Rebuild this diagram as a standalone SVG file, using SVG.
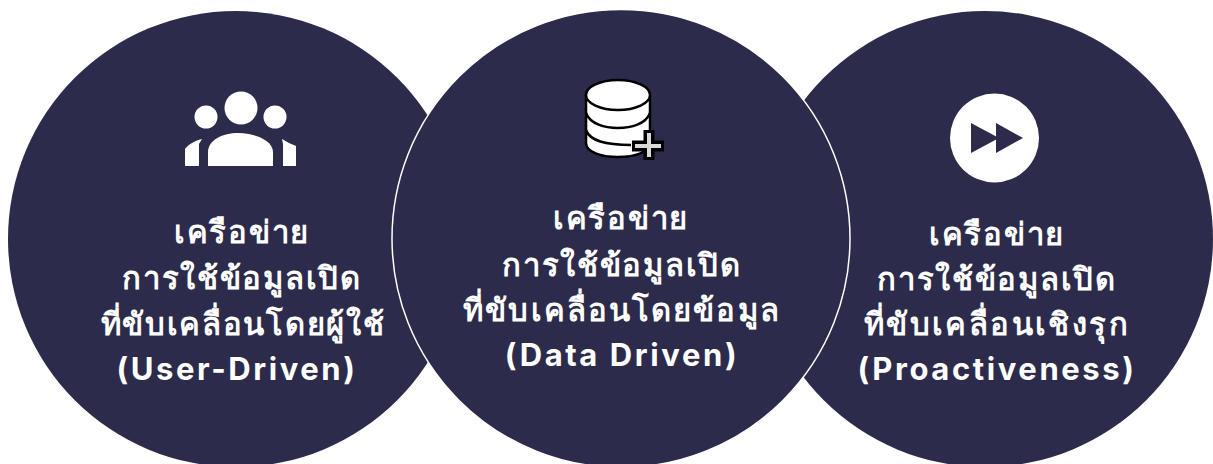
<svg xmlns="http://www.w3.org/2000/svg" width="1213" height="464" viewBox="0 0 1213 464">
<defs><filter id="soft" x="-10%" y="-10%" width="120%" height="120%"><feGaussianBlur stdDeviation="0.7"/></filter></defs>
<style>
.c{fill:#2d2b4b}
.t{font-family:"Noto Sans","DejaVu Sans",sans-serif;font-weight:700;font-size:31px;fill:#fff;text-anchor:middle;letter-spacing:1.7px}
.l{font-family:"Inter","Noto Sans",sans-serif;font-weight:700;font-size:31px;letter-spacing:2.6px}
.w{fill:#fff}
.d{fill:#2d2b4b}
</style>
<rect width="1213" height="464" fill="#fff"/>
<g id="node-left">
<circle class="c" cx="236" cy="239" r="228"/>
<g class="w" filter="url(#soft)">
<circle cx="241" cy="108" r="16.500"/>
<circle cx="206" cy="117" r="11.500"/>
<circle cx="275" cy="117" r="11.500"/>
<path d="M208 166V152C208 140 223 133 238 133C254 133 273 140 273 152V166Z"/>
<path d="M185 166V149C188 145 194 141 202 139L199 144V166Z"/>
<path d="M296 166V146L289 143L282 139L283 144V166Z"/>
</g>
<text class="t" x="242" y="243">เครือข่าย</text>
<text class="t" x="242" y="289">การใช้ข้อมูลเปิด</text>
<text class="t" x="243" y="335">ที่ขับเคลื่อนโดยผู้ใช้</text>
<text class="t l" x="237" y="380">(User-Driven)</text>
</g>
<g id="node-right">
<circle class="c" cx="985" cy="239" r="228"/>
<g filter="url(#soft)">
<circle class="w" cx="994.500" cy="138" r="44.500"/>
<path class="d" d="M971 123L999 138L971 153Z"/>
<path class="d" d="M996 123L1023 138L996 153Z"/>
</g>
<text class="t" x="997" y="245">เครือข่าย</text>
<text class="t" x="997" y="290">การใช้ข้อมูลเปิด</text>
<text class="t" x="997" y="335" style="letter-spacing:2.400px">ที่ขับเคลื่อนเชิงรุก</text>
<text class="t l" x="997" y="380">(Proactiveness)</text>
</g>
<g id="node-center">
<circle class="c" cx="621" cy="238.500" r="229" stroke="#fff" stroke-width="1.500"/>
<g filter="url(#soft)">
<g stroke="#000" stroke-width="2.500" fill="#fff">
<path d="M586 95V143C586 152 601 157 618 157C635 157 650 152 650 143V95Z"/>
<ellipse cx="618" cy="95" rx="32" ry="15"/>
<path d="M586 113C590 124 605 128 618 128C631 128 646 124 650 113" fill="none"/>
<path d="M586 130C590 141 605 145 631 145" fill="none"/>
</g>
<path d="M632 146H664M649 130V160" stroke="#000" stroke-width="11" fill="none"/>
<path d="M635 146H661M649 133V157" stroke="#d9d9d9" stroke-width="4" fill="none"/>
</g>
<text class="t" x="621" y="229">เครือข่าย</text>
<text class="t" x="622" y="276">การใช้ข้อมูลเปิด</text>
<text class="t" x="622" y="321" style="letter-spacing:2.100px">ที่ขับเคลื่อนโดยข้อมูล</text>
<text class="t l" x="622" y="366">(Data Driven)</text>
</g>
</svg>
